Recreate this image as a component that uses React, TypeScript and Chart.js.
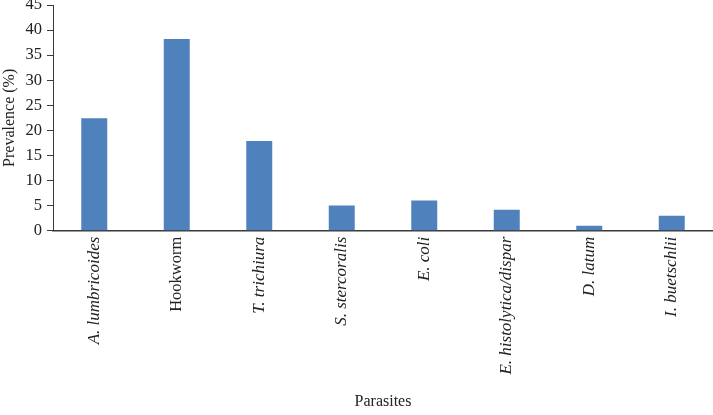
import React, { useEffect, useRef } from "react";
import { Chart, registerables } from "chart.js";

Chart.register(...registerables);

const categories = [
  "A. lumbricoides",
  "Hookworm",
  "T. trichiura",
  "S. stercoralis",
  "E. coli",
  "E. histolytica/dispar",
  "D. latum",
  "I. buetschlii",
];
const italicFlags = [true, false, true, true, true, true, true, true];
const prevalence = [22.4, 38.2, 17.9, 5.0, 6.0, 4.2, 1.0, 3.0];
const yTitle = "Prevalence (%)";
const xTitle = "Parasites";

const FONT = "'Liberation Serif', 'Times New Roman', serif";
const TEXT = "#222222";
const AXIS = "#3a3a3a";

export default function App() {
  const ref = useRef<HTMLCanvasElement | null>(null);

  useEffect(() => {
    document.body.style.margin = "0";
    const canvas = ref.current;
    if (!canvas) return;
    const chart = new Chart(canvas, {
      type: "bar",
      data: {
        labels: categories,
        datasets: [
          {
            data: prevalence,
            backgroundColor: "#4f81bd",
            borderWidth: 0,
            barPercentage: 0.315,
            categoryPercentage: 1,
          },
        ],
      },
      options: {
        animation: false,
        responsive: false,
        maintainAspectRatio: false,
        devicePixelRatio: 1,
        layout: { padding: { top: 5, left: 0, right: 0, bottom: 0 } },
        plugins: {
          legend: { display: false },
          tooltip: { enabled: false },
        },
        scales: {
          x: {
            offset: true,
            grid: { display: false, drawTicks: false },
            border: { display: true, color: AXIS, width: 1.5 },
            ticks: {
              color: TEXT,
              maxRotation: 90,
              minRotation: 90,
              padding: 6,
              autoSkip: false,
              font: (ctx: any) => ({
                family: FONT,
                size: italicFlags[ctx.index] ? 17 : 16.5,
                style: italicFlags[ctx.index] ? "italic" : "normal",
              }),
            },
            title: {
              display: true,
              text: xTitle,
              color: TEXT,
              font: { family: FONT, size: 16 },
              padding: { top: 0, bottom: 4 },
            },
            afterFit: (scale: any) => {
              scale.height = 184.3;
              scale.paddingLeft = 0;
              scale.paddingRight = 0;
            },
          },
          y: {
            min: 0,
            max: 45,
            ticks: {
              stepSize: 5,
              color: TEXT,
              padding: 5,
              font: { family: FONT, size: 16.5 },
            },
            grid: {
              display: true,
              drawOnChartArea: false,
              drawTicks: true,
              tickLength: 6,
              color: AXIS,
              lineWidth: 1,
            },
            border: { display: true, color: AXIS, width: 1 },
            title: {
              display: true,
              text: yTitle,
              color: TEXT,
              font: { family: FONT, size: 16 },
              padding: { top: 0.5, bottom: 0 },
            },
            afterFit: (scale: any) => {
              scale.width = 53;
              scale.paddingTop = 0;
              scale.paddingBottom = 0;
            },
          },
        },
      },
    });
    return () => chart.destroy();
  }, []);

  return (
    <div style={{ width: 713, height: 415 }}>
      <canvas ref={ref} width={713} height={415} style={{ display: "block" }} />
    </div>
  );
}
